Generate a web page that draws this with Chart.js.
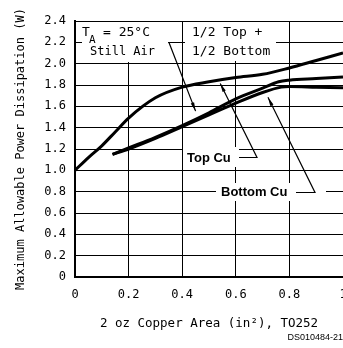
<!DOCTYPE html>
<html>
<head>
<meta charset="utf-8">
<script src="https://cdn.jsdelivr.net/npm/chart.js@4"></script>
<style>
html, body { margin: 0; padding: 0; background: #fff; overflow: hidden; }
canvas { display: block; }
</style>
</head>
<body>
<canvas id="chart" width="350" height="348"></canvas>
<script>
const xTicks = [0, 0.2, 0.4, 0.6, 0.8, 1];
const yTicks = [0, 0.2, 0.4, 0.6, 0.8, 1.0, 1.2, 1.4, 1.6, 1.8, 2.0, 2.2, 2.4];

// Top Cu (upper curve)
const topCuX = [0, 0.05, 0.1, 0.15, 0.2, 0.3, 0.4, 0.5, 0.6, 0.7, 0.8, 0.9, 1.0];
const topCuY = [1.0, 1.12, 1.23, 1.36, 1.49, 1.68, 1.78, 1.83, 1.87, 1.90, 1.96, 2.03, 2.10];

// 1/2 Top + 1/2 Bottom (middle curve)
const halfX = [0.14, 0.2, 0.3, 0.4, 0.5, 0.6, 0.7, 0.76, 0.8, 0.9, 1.0];
const halfY = [1.15, 1.21, 1.31, 1.42, 1.54, 1.67, 1.77, 1.83, 1.845, 1.86, 1.875];

// Bottom Cu (lower curve)
const bottomCuX = [0.14, 0.2, 0.3, 0.4, 0.5, 0.6, 0.7, 0.77, 0.8, 0.9, 1.0];
const bottomCuY = [1.15, 1.20, 1.30, 1.41, 1.52, 1.63, 1.73, 1.78, 1.785, 1.78, 1.775];

const MONO = '"DejaVu Sans Mono", monospace';
const SANS = '"Liberation Sans", Arial, sans-serif';

Chart.defaults.color = '#000';

function toPoints(xs, ys) {
    return xs.map((x, i) => ({ x: x, y: ys[i] }));
}

function series(label, xs, ys) {
    return {
        label: label,
        data: toPoints(xs, ys),
        borderColor: '#000',
        borderWidth: 3,
        pointRadius: 0,
        fill: false,
        cubicInterpolationMode: 'monotone'
    };
}

function seg(ctx, pts) {
    ctx.beginPath();
    ctx.moveTo(pts[0][0], pts[0][1]);
    for (let i = 1; i < pts.length; i++) ctx.lineTo(pts[i][0], pts[i][1]);
    ctx.stroke();
}

function arrowHead(ctx, x1, y1, x2, y2) {
    const a = Math.atan2(y2 - y1, x2 - x1);
    const len = 9, spread = 0.2;
    ctx.beginPath();
    ctx.moveTo(x2, y2);
    ctx.lineTo(x2 - len * Math.cos(a - spread), y2 - len * Math.sin(a - spread));
    ctx.lineTo(x2 - len * Math.cos(a + spread), y2 - len * Math.sin(a + spread));
    ctx.closePath();
    ctx.fill();
}

const notes = {
    id: 'notes',
    beforeDatasetsDraw(chart) {
        const ctx = chart.ctx;
        ctx.save();
        ctx.fillStyle = '#fff';
        ctx.fillRect(82, 22, 86, 40);
        ctx.fillRect(185, 22, 91, 39);
        ctx.fillRect(183, 147, 56, 20);
        ctx.fillRect(216, 183, 110, 18);
        ctx.restore();
    },
    afterDatasetsDraw(chart) {
        const ctx = chart.ctx;
        const sx = chart.scales.x, sy = chart.scales.y;
        const px = v => sx.getPixelForValue(v);
        const py = v => sy.getPixelForValue(v);
        ctx.save();
        ctx.fillStyle = '#000';
        ctx.strokeStyle = '#000';
        ctx.lineWidth = 1.2;
        ctx.textBaseline = 'middle';
        ctx.textAlign = 'left';

        ctx.font = '13px ' + MONO;
        ctx.fillText('T', 82, 33);
        ctx.font = '11px ' + MONO;
        ctx.fillText('A', 89, 40);
        ctx.font = '13px ' + MONO;
        ctx.fillText('= 25°C', 103, 33);
        ctx.font = '12px ' + MONO;
        ctx.fillText('Still Air', 90, 52);

        ctx.font = '13px ' + MONO;
        ctx.fillText('1/2 Top +', 192, 33);
        ctx.fillText('1/2 Bottom', 192, 52);

        ctx.font = 'bold 13px ' + SANS;
        ctx.fillText('Top Cu', 187, 158);
        ctx.fillText('Bottom Cu', 221, 192);

        // leaders
        let tip = [px(0.45), py(1.555)];
        seg(ctx, [[185, 42.5], [169, 42.5], tip]);
        arrowHead(ctx, 169, 42.5, tip[0], tip[1]);

        tip = [px(0.542), py(1.815)];
        seg(ctx, [[239, 157.5], [257, 157.5], tip]);
        arrowHead(ctx, 257, 157.5, tip[0], tip[1]);

        tip = [px(0.72), py(1.685)];
        seg(ctx, [[296, 192.5], [315, 192.5], tip]);
        arrowHead(ctx, 315, 192.5, tip[0], tip[1]);

        ctx.font = '9px ' + SANS;
        ctx.textAlign = 'right';
        ctx.fillText('DS010484-21', 343, 338);
        ctx.restore();
    }
};

new Chart(document.getElementById('chart').getContext('2d'), {
    type: 'line',
    data: {
        datasets: [
            series('Top Cu', topCuX, topCuY),
            series('1/2 Top + 1/2 Bottom', halfX, halfY),
            series('Bottom Cu', bottomCuX, bottomCuY)
        ]
    },
    options: {
        responsive: false,
        animation: false,
        devicePixelRatio: 1,
        layout: { padding: { left: 0, right: 7, top: 21, bottom: 0 } },
        plugins: {
            legend: { display: false },
            tooltip: { enabled: false }
        },
        scales: {
            x: {
                type: 'linear',
                min: 0,
                max: 1,
                afterBuildTicks: s => { s.ticks = xTicks.map(v => ({ value: v })); },
                afterFit: s => { s.height = 71; },
                grid: { color: '#000', lineWidth: 1, drawTicks: true, tickLength: 11, tickColor: 'rgba(0,0,0,0)' },
                border: { color: '#000', width: 2 },
                ticks: {
                    padding: 0,
                    maxRotation: 0,
                    font: { family: MONO, size: 12 },
                    callback: v => (v === 0 || v === 1) ? String(v) : v.toFixed(1)
                },
                title: {
                    display: true,
                    text: '2 oz Copper Area (in²), TO252',
                    font: { family: MONO, size: 12.5 },
                    padding: { top: 0, bottom: 17 }
                }
            },
            y: {
                min: 0,
                max: 2.4,
                afterBuildTicks: s => { s.ticks = yTicks.map(v => ({ value: v })); },
                afterFit: s => { s.width = 75; },
                grid: { color: '#000', lineWidth: 1, drawTicks: false },
                border: { color: '#000', width: 2 },
                ticks: {
                    padding: 9,
                    font: { family: MONO, size: 12 },
                    callback: v => v === 0 ? '0' : v.toFixed(1)
                },
                title: {
                    display: true,
                    text: 'Maximum Allowable Power Dissipation (W)',
                    font: { family: MONO, size: 12 },
                    padding: { top: 14, bottom: 0 }
                }
            }
        }
    },
    plugins: [notes]
});
</script>
</body>
</html>
